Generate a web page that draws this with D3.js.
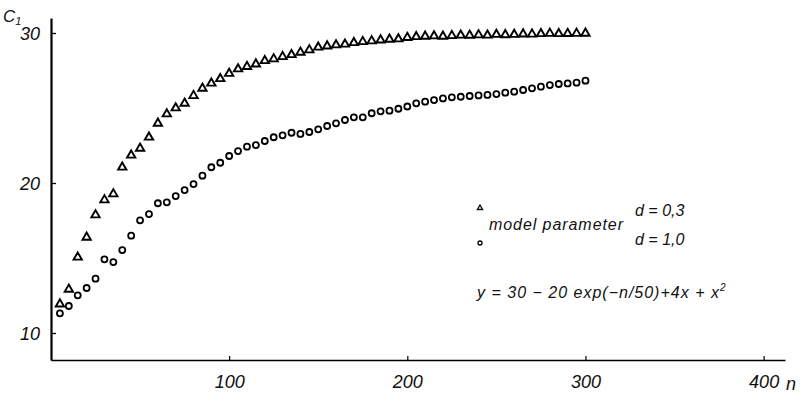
<!DOCTYPE html>
<html>
<head>
<meta charset="utf-8">
<script src="https://cdn.jsdelivr.net/npm/d3@7"></script>
<style>
  html, body { margin: 0; padding: 0; background: #fff; }
  svg { display: block; }
  text { font-family: 'Liberation Sans', Arial, sans-serif; font-style: italic; fill: #111; }
</style>
</head>
<body>
<svg id="chart" width="806" height="394"></svg>
<script>
// n = 5, 10, ... 300
const nValues = d3.range(5, 301, 5)

// model parameter d = 0,3 (triangles)
const seriesD03 = [
  11.93, 12.91, 15.05, 16.38, 17.87, 18.87, 19.27, 21.05, 21.85, 22.31,
  23.05, 23.98, 24.6, 25.0, 25.31, 25.82, 26.31, 26.65, 26.95, 27.3,
  27.6, 27.76, 27.93, 28.15, 28.27, 28.42, 28.55, 28.71, 28.87, 29.05,
  29.13, 29.2, 29.25, 29.35, 29.42, 29.47, 29.53, 29.58, 29.6, 29.69,
  29.75, 29.78, 29.8, 29.78, 29.82, 29.85, 29.84, 29.87, 29.85, 29.9,
  29.88, 29.9, 29.93, 29.92, 29.95, 29.97, 29.95, 29.96, 29.97, 29.98,
]

// model parameter d = 1,0 (circles)
const seriesD10 = [
  11.31, 11.8, 12.51, 13.0, 13.62, 14.91, 14.73, 15.53, 16.49, 17.51,
  17.93, 18.65, 18.71, 19.13, 19.53, 19.93, 20.49, 21.05, 21.35, 21.8,
  22.13, 22.42, 22.53, 22.8, 23.05, 23.18, 23.35, 23.27, 23.4, 23.58,
  23.8, 23.98, 24.2, 24.38, 24.38, 24.65, 24.78, 24.82, 24.95, 25.1,
  25.31, 25.42, 25.53, 25.64, 25.71, 25.75, 25.8, 25.84, 25.87, 25.93,
  26.02, 26.09, 26.2, 26.31, 26.42, 26.53, 26.6, 26.64, 26.69, 26.82,
]

const xTicks = [100, 200, 300, 400]
const yTicks = [10, 20, 30]

const svg = d3.select('#chart')

const x = d3.scaleLinear().domain([0, 412]).range([51, 785])
const y = d3.scaleLinear().domain([8.2, 31]).range([360, 18])

// axes
const yAxis = svg.append('g')
  .attr('transform', `translate(${x(0)},0)`)
  .call(d3.axisLeft(y).tickValues(yTicks).tickSize(-5).tickSizeOuter(0).tickPadding(11))
yAxis.select('.domain').attr('stroke', '#000').attr('stroke-width', 2.2)
yAxis.selectAll('.tick line').attr('stroke', '#000').attr('stroke-width', 1.3)
yAxis.selectAll('.tick text')
  .attr('font-size', 18)
  .attr('font-family', null)
  .attr('dy', '0.36em')

const xAxis = svg.append('g')
  .attr('transform', `translate(0,${y(8.2)})`)
  .call(d3.axisBottom(x).tickValues(xTicks).tickSize(-4).tickSizeOuter(0).tickPadding(15))
xAxis.select('.domain').attr('stroke', '#000').attr('stroke-width', 1.6)
xAxis.selectAll('.tick line').attr('stroke', '#000').attr('stroke-width', 1.2)
xAxis.selectAll('.tick text')
  .attr('font-size', 18)
  .attr('font-family', null)

svg.append('text')
  .attr('x', 786)
  .attr('y', 390)
  .attr('font-size', 18)
  .text('n')

// y axis title C1
const cLabel = svg.append('text').attr('x', 3).attr('y', 22).attr('font-size', 17)
cLabel.append('tspan').text('C')
cLabel.append('tspan').attr('font-size', 11).attr('dy', 3).text('1')

// data markers
const tri = d3.symbol().type(d3.symbolTriangle).size(30)

svg.append('g')
  .selectAll('path')
  .data(nValues.map((n, i) => [n, seriesD03[i]]))
  .join('path')
  .attr('d', tri)
  .attr('transform', (d) => `translate(${x(d[0])},${y(d[1])})`)
  .attr('fill', 'none')
  .attr('stroke', '#000')
  .attr('stroke-width', 1.9)

svg.append('g')
  .selectAll('circle')
  .data(nValues.map((n, i) => [n, seriesD10[i]]))
  .join('circle')
  .attr('cx', (d) => x(d[0]))
  .attr('cy', (d) => y(d[1]))
  .attr('r', 3)
  .attr('fill', 'none')
  .attr('stroke', '#000')
  .attr('stroke-width', 1.8)

// legend
svg.append('path')
  .attr('d', d3.symbol().type(d3.symbolTriangle).size(12))
  .attr('transform', 'translate(480,208)')
  .attr('fill', 'none')
  .attr('stroke', '#000')
  .attr('stroke-width', 1.3)
svg.append('circle')
  .attr('cx', 480).attr('cy', 243).attr('r', 2)
  .attr('fill', 'none').attr('stroke', '#000').attr('stroke-width', 1.3)

svg.append('text')
  .attr('x', 489).attr('y', 230)
  .attr('font-size', 16)
  .attr('textLength', 134).attr('lengthAdjust', 'spacing')
  .text('model parameter')
svg.append('text')
  .attr('x', 635).attr('y', 216)
  .attr('font-size', 16)
  .text('d = 0,3')
svg.append('text')
  .attr('x', 635).attr('y', 245)
  .attr('font-size', 16)
  .text('d = 1,0')

// fitted model formula
const eq = svg.append('text')
  .attr('x', 477).attr('y', 298)
  .attr('font-size', 16)
  .attr('letter-spacing', 1)
eq.append('tspan').text('y = 30 − 20  exp(−n/50)+4x + x')
eq.append('tspan').attr('font-size', 10).attr('dy', -7).text('2')
</script>
</body>
</html>
